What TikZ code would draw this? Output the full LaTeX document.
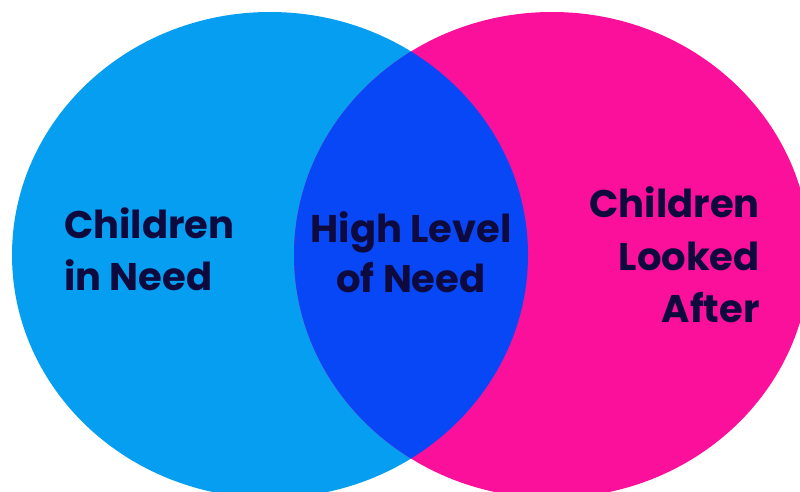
\documentclass[tikz,border=0pt]{standalone}
\usepackage{fontspec}
\setmainfont{Poppins}
\definecolor{cblue}{RGB}{6,158,240}
\definecolor{cpink}{RGB}{250,16,155}
\definecolor{cmid}{RGB}{8,71,245}
\definecolor{ctext}{RGB}{14,10,62}
\begin{document}
\begin{tikzpicture}[x=1pt,y=-1pt,
  lbl/.style={inner sep=0pt,text=ctext,font=\fontsize{38.5}{48}\selectfont\bfseries}]
\useasboundingbox (0,0) rectangle (800,492);
\fill[cblue] (270,255) ellipse [x radius=258, y radius=243];
\fill[cpink] (552,255) ellipse [x radius=258, y radius=243];
\begin{scope}
  \clip (270,255) ellipse [x radius=258, y radius=243];
  \fill[cmid] (552,255) ellipse [x radius=258, y radius=243];
\end{scope}
\node[lbl,anchor=base west] (cin1) at (64,238) {Children};
\node[lbl,anchor=base west] (cin2) at (64,290) {in Need};
\node[lbl,anchor=base] (hl1) at (411,242) {High Level};
\node[lbl,anchor=base] (hl2) at (411,292) {of Need};
\node[lbl,anchor=base east] (cla1) at (760,217) {Children};
\node[lbl,anchor=base east] (cla2) at (760,270) {Looked};
\node[lbl,anchor=base east] (cla3) at (760,322) {After};
\end{tikzpicture}
\end{document}
